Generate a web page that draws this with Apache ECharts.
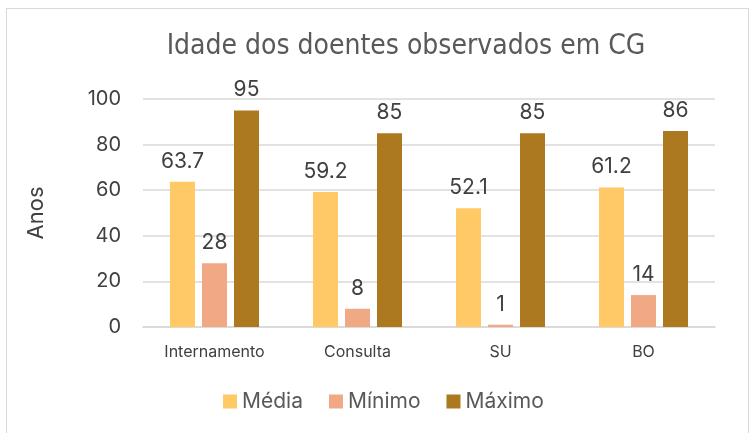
<!DOCTYPE html>
<html>
<head>
<meta charset="utf-8">
<script src="https://cdn.jsdelivr.net/npm/echarts@6/dist/echarts.min.js"></script>
<style>
  html, body { margin: 0; padding: 0; background: #fff; }
  #frame { position: absolute; left: 6px; top: 8px; width: 743px; height: 430px; border: 1px solid #d9d9d9; box-sizing: border-box; }
  #chart { position: absolute; left: 0; top: 0; width: 752px; height: 433px; }
</style>
</head>
<body>
<div id="frame"></div>
<div id="chart"></div>
<script>
const categories = ["Internamento", "Consulta", "SU", "BO"];
const media = [63.7, 59.2, 52.1, 61.2];
const minimo = [28, 8, 1, 14];
const maximo = [95, 85, 85, 86];
const yTicks = [0, 20, 40, 60, 80, 100];

const chart = echarts.init(document.getElementById("chart"));

const label = {
  show: true,
  position: "top",
  distance: 10,
  color: "#404040",
  fontSize: 21,
  fontFamily: "Inter"
};

function bar(name, data, color) {
  return {
    name: name,
    type: "bar",
    data: data,
    barWidth: 25,
    barGap: "28%",
    barCategoryGap: "38%",
    itemStyle: { color: color },
    label: label
  };
}

chart.setOption({
  animation: false,
  title: {
    text: "Idade dos doentes observados em CG",
    left: 401,
    textAlign: "center",
    top: 28,
    textStyle: { color: "#595959", fontSize: 28, fontWeight: "normal", fontFamily: "DejaVu Sans Condensed, Roboto, sans-serif" }
  },
  grid: { left: 143, right: 37, top: 99, bottom: 106 },
  legend: {
    data: ["Média", "Mínimo", "Máximo"],
    bottom: 16,
    left: 218,
    itemWidth: 14,
    itemHeight: 14,
    itemGap: 26,
    icon: "rect",
    textStyle: { color: "#595959", fontSize: 21, fontFamily: "Inter" }
  },
  xAxis: {
    type: "category",
    data: categories,
    axisLine: { lineStyle: { color: "#d9d9d9", width: 1.5 } },
    axisTick: { show: false },
    axisLabel: { color: "#404040", fontSize: 16, margin: 17, fontFamily: "Inter" }
  },
  yAxis: {
    type: "value",
    min: yTicks[0],
    max: yTicks[yTicks.length - 1],
    interval: 20,
    name: "Anos",
    nameLocation: "middle",
    nameGap: 96,
    nameRotate: 90,
    nameTextStyle: { color: "#404040", fontSize: 22, fontFamily: "Inter" },
    axisLabel: { color: "#404040", fontSize: 20, margin: 22, fontFamily: "Inter" },
    splitLine: { lineStyle: { color: "#d9d9d9", width: 1.5 } }
  },
  series: [
    bar("Média", media, "#FFC965"),
    bar("Mínimo", minimo, "#F1A885"),
    bar("Máximo", maximo, "#AC7820")
  ]
});
</script>
</body>
</html>
